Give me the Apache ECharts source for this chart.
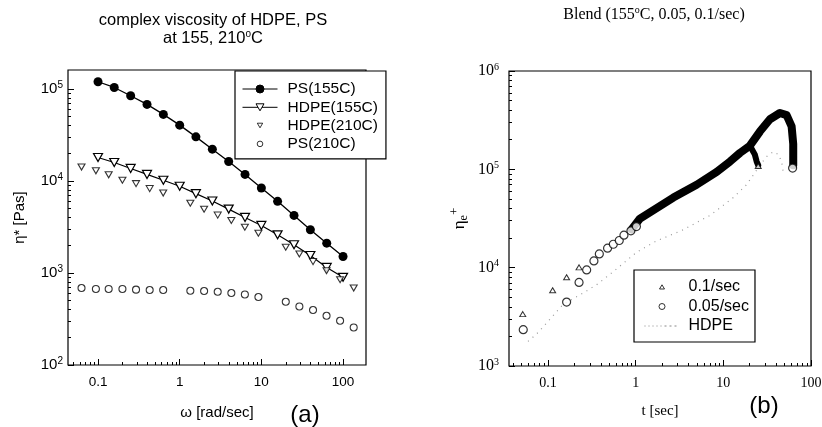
<!DOCTYPE html>
<html>
<head>
<meta charset="utf-8">
<script src="https://cdn.jsdelivr.net/npm/echarts@6/dist/echarts.min.js"></script>
<style>
  html, body { margin: 0; padding: 0; background: #fff; }
  #chart { width: 822px; height: 427px; }
</style>
</head>
<body>
<div id="chart"></div>
<script>
// ---- (a) complex viscosity, x = omega [rad/sec]
const omega155 = [0.1, 0.158, 0.251, 0.398, 0.631, 1, 1.58, 2.51, 3.98, 6.31, 10, 15.8, 25.1, 39.8, 63.1, 100];
const ps155 = [120000, 104000, 84500, 68100, 53000, 40500, 30200, 22200, 16300, 11800, 8400, 6010, 4230, 2950, 2110, 1510];
const hdpe155 = [18000, 15900, 13700, 11800, 10200, 8760, 7290, 6060, 4950, 4020, 3290, 2600, 2030, 1550, 1150, 897];

const omega210 = [0.0628, 0.0942, 0.135, 0.199, 0.292, 0.429, 0.628, 1.35, 1.99, 2.92, 4.29, 6.28, 9.2, 19.9, 29.2, 42.9, 62.8, 92, 135];
const hdpe210 = [14200, 12900, 11700, 10200, 9370, 8270, 7410, 5740, 4940, 4260, 3730, 3150, 2710, 1910, 1610, 1330, 1060, 847, 687];
const ps210 = [687, 671, 671, 671, 659, 654, 654, 642, 637, 626, 606, 585, 548, 487, 433, 396, 343, 303, 256];

// ---- (b) blend elongational viscosity, x = t [sec]
const rate01T = [0.0515, 0.113, 0.163, 0.226, 25.0];
const rate01V = [3370, 5890, 8000, 10070, 108000];
const rate005T = [0.0522, 0.163, 0.226, 0.276, 0.334, 0.385, 0.478, 0.556, 0.65, 0.735, 0.883, 1.02, 61.7];
const rate005V = [2340, 4470, 7080, 9490, 11700, 13800, 15800, 17300, 18900, 21400, 23700, 26200, 103000];
// dense part of the measurements (markers overlap into a solid band)
const band01T = [0.9, 1.12, 2.69, 4.96, 8.4, 11.9, 15.5, 20.1, 22.9, 24.0, 25.0];
const band01V = [24500, 31600, 51600, 69700, 94100, 120000, 147000, 174000, 141000, 120000, 110000];
const band005T = [0.9, 1.12, 2.69, 4.96, 8.4, 11.9, 15.5, 20.1, 26.1, 34.0, 44.2, 52.7, 60.1, 62.7, 62.7];
const band005V = [24500, 31600, 51600, 69700, 94100, 120000, 147000, 174000, 242000, 323000, 374000, 356000, 274000, 181000, 110000];
const hdpeT = [0.0592, 0.0743, 0.0883, 0.149, 0.253, 0.359, 0.556, 1.03, 1.73, 3.49, 7.03, 9.14, 13.0, 18.4, 21.9, 26.1, 31.2, 37.1, 42.3, 46.2, 48.2];
const hdpeV = [1780, 2120, 2510, 4240, 5530, 6710, 9120, 14400, 18700, 24300, 34000, 40500, 51600, 69700, 87300, 110000, 135000, 151000, 142000, 120000, 94100];

// tick labels
const aXMajor = [0.1, 1, 10, 100];
const aYMajor = [100, 1000, 10000, 100000];
const bXMajor = [0.1, 1, 10, 100];
const bYMajor = [1000, 10000, 100000, 1000000];

const sans = "'Liberation Sans', Arial, sans-serif";
const serif = "'Liberation Serif', 'Times New Roman', serif";

// 2..9 x 10^k between lo and hi
function minorTicks(lo, hi) {
  const out = [];
  for (let k = Math.floor(Math.log10(lo)); k <= Math.ceil(Math.log10(hi)); k++) {
    for (let m = 2; m <= 9; m++) {
      const v = Number((m * Math.pow(10, k)).toPrecision(6));
      if (v >= lo && v <= hi) out.push(v);
    }
  }
  return out;
}

function zip(xs, ys) {
  return xs.map((x, i) => [x, ys[i]]);
}

const aXMin = 0.0429, aXMax = 191, aYMin = 100, aYMax = 161000;
const bXMin = 0.0359, bXMax = 100, bYMin = 1000, bYMax = 1000000;

const pow10 = (v) => '10{sup|' + Math.round(Math.log10(v)) + '}';

// log axes carry the data and the labels
function mainX(grid, min, max, ticks, font, size, name, gap) {
  return {
    type: 'log', gridIndex: grid, min: min, max: max, position: 'bottom',
    axisLine: { show: false, onZero: false }, splitLine: { show: false }, axisTick: { show: false },
    axisLabel: {
      customValues: ticks, color: '#000', fontFamily: font, fontSize: size, margin: 10,
      formatter: (v) => String(Number(v.toPrecision(6)))
    },
    name: name, nameLocation: 'middle', nameGap: gap,
    nameTextStyle: { color: '#000', fontFamily: font, fontSize: 15 }
  };
}
function mainY(grid, min, max, ticks, font, size, margin) {
  return {
    type: 'log', gridIndex: grid, min: min, max: max, position: 'left',
    axisLine: { show: false, onZero: false }, splitLine: { show: false }, axisTick: { show: false },
    axisLabel: {
      customValues: ticks, color: '#000', fontFamily: font, fontSize: size, margin: margin,
      formatter: pow10,
      rich: { sup: { fontFamily: font, fontSize: 10, padding: [0, 0, 8, 0] } }
    }
  };
}
// tick marks only: a plain axis over log10 of the same range
function tickAxis(grid, min, max, values, len, pos) {
  return {
    type: 'value', gridIndex: grid, min: Math.log10(min), max: Math.log10(max), position: pos,
    axisLine: { show: false, onZero: false }, splitLine: { show: false }, axisLabel: { show: false },
    axisTick: {
      show: true, inside: true, length: len, lineStyle: { color: '#000', width: 1 },
      customValues: values.map((v) => Math.log10(v))
    }
  };
}

const yA = mainY(0, aYMin, aYMax, aYMajor, sans, 15, 5);
yA.name = '\u03b7* [Pas]';
yA.nameLocation = 'middle';
yA.nameGap = 41;
yA.nameTextStyle = { color: '#000', fontFamily: sans, fontSize: 15 };

const yB = mainY(1, bYMin, bYMax, bYMajor, serif, 16, 10);
yB.name = '\u03b7{sub|e}{sup|+}';
yB.nameLocation = 'middle';
yB.nameGap = 38;
yB.nameTextStyle = {
  color: '#000', fontFamily: serif, fontSize: 17,
  rich: {
    sub: { fontFamily: serif, fontSize: 12, padding: [8, 0, 0, 0] },
    sup: { fontFamily: serif, fontSize: 13, padding: [0, 0, 10, 0] }
  }
};

const blackFill = { color: '#000', borderColor: '#000', borderWidth: 1 };
const whiteFill = { color: '#fff', borderColor: '#000', borderWidth: 1 };

const option = {
  animation: false,
  backgroundColor: '#fff',
  title: [
    {
      text: 'complex viscosity of HDPE, PS\nat 155, 210{sup|o}C',
      left: 213, top: 11, padding: 0, textAlign: 'center',
      textStyle: {
        color: '#000', fontFamily: sans, fontSize: 16.5, fontWeight: 'normal', lineHeight: 18,
        rich: { sup: { fontFamily: sans, fontSize: 10, lineHeight: 18, padding: [0, 0, 8, 0] } }
      }
    },
    {
      text: 'Blend (155{sup|o}C, 0.05, 0.1/sec)',
      left: 654, top: 6, padding: 0, textAlign: 'center',
      textStyle: {
        color: '#000', fontFamily: serif, fontSize: 16, fontWeight: 'normal', lineHeight: 18,
        rich: { sup: { fontFamily: serif, fontSize: 10, lineHeight: 18, padding: [0, 0, 9, 0] } }
      }
    },
    {
      text: '(a)', left: 305, top: 402, padding: 0, textAlign: 'center',
      textStyle: { color: '#000', fontFamily: sans, fontSize: 24, fontWeight: 'normal', lineHeight: 26 }
    },
    {
      text: '(b)', left: 764, top: 393, padding: 0, textAlign: 'center',
      textStyle: { color: '#000', fontFamily: sans, fontSize: 24, fontWeight: 'normal', lineHeight: 26 }
    }
  ],
  grid: [
    { left: 68, top: 70, width: 298, height: 295, show: true, borderColor: '#000', borderWidth: 1.2, outerBoundsMode: 'none', containLabel: false },
    { left: 509, top: 71, width: 302, height: 295, show: true, borderColor: '#000', borderWidth: 1.2, outerBoundsMode: 'none', containLabel: false }
  ],
  xAxis: [
    mainX(0, aXMin, aXMax, aXMajor, sans, 13.5, '\u03c9 [rad/sec]', 40),
    tickAxis(0, aXMin, aXMax, aXMajor, 6, 'bottom'),
    tickAxis(0, aXMin, aXMax, minorTicks(aXMin, aXMax), 3, 'bottom'),
    mainX(1, bXMin, bXMax, bXMajor, serif, 14, 't [sec]', 38),
    tickAxis(1, bXMin, bXMax, bXMajor, 6, 'bottom'),
    tickAxis(1, bXMin, bXMax, minorTicks(bXMin, bXMax), 3, 'bottom')
  ],
  yAxis: [
    yA,
    tickAxis(0, aYMin, aYMax, aYMajor, 6, 'left'),
    tickAxis(0, aYMin, aYMax, minorTicks(aYMin, aYMax), 3, 'left'),
    yB,
    tickAxis(1, bYMin, bYMax, bYMajor, 6, 'left'),
    tickAxis(1, bYMin, bYMax, minorTicks(bYMin, bYMax), 3, 'left')
  ],
  legend: [
    {
      orient: 'vertical', left: 235, top: 71, z: 10,
      padding: [10, 8, 7, 7], itemGap: 2.3, itemWidth: 35, itemHeight: 10,
      backgroundColor: '#fff', borderColor: '#000', borderWidth: 1.2,
      textStyle: { color: '#000', fontFamily: sans, fontSize: 15.5, lineHeight: 16, padding: [0, 0, 0, 5] },
      data: [
        { name: 'PS(155C)', icon: 'path://M0,0M35,10M0,5L13.5,5M21.5,5L35,5M21.5,5A4,4,0,1,1,13.5,5A4,4,0,1,1,21.5,5Z', itemStyle: blackFill },
        { name: 'HDPE(155C)', icon: 'path://M0,0M35,10M0,5L15.5,5M19.5,5L35,5M13.5,1.5L21.5,1.5L17.5,8.5Z', itemStyle: whiteFill },
        { name: 'HDPE(210C)', icon: 'path://M0,0M35,10M14.8,2.6L20.2,2.6L17.5,7.2Z', itemStyle: whiteFill },
        { name: 'PS(210C)', icon: 'path://M0,0M35,10M20.3,5A2.8,2.8,0,1,1,14.7,5A2.8,2.8,0,1,1,20.3,5Z', itemStyle: whiteFill }
      ]
    },
    {
      orient: 'vertical', left: 634, top: 270, z: 10,
      padding: [9, 6, 8, 10], itemGap: 3.5, itemWidth: 35, itemHeight: 10,
      backgroundColor: '#fff', borderColor: '#000', borderWidth: 1.2,
      textStyle: { color: '#000', fontFamily: sans, fontSize: 16, lineHeight: 16, padding: [0, 0, 0, 4] },
      data: [
        { name: '0.1/sec', icon: 'path://M0,0M35,10M15,7L20,7L17.5,2.8Z', itemStyle: whiteFill },
        { name: '0.05/sec', icon: 'path://M0,0M35,10M20.5,5A3,3,0,1,1,14.5,5A3,3,0,1,1,20.5,5Z', itemStyle: whiteFill },
        { name: 'HDPE', icon: 'path://M0,0M35,10M0,5L1,5M4,5L5,5M8,5L9,5M12,5L13,5M16,5L17,5M20,5L22,5M25,5L27,5M30,5L32,5', itemStyle: { color: '#fff', borderColor: '#888', borderWidth: 1 } }
      ]
    }
  ],
  series: [
    {
      name: 'PS(155C)', type: 'line', xAxisIndex: 0, yAxisIndex: 0,
      data: zip(omega155, ps155), symbol: 'circle', symbolSize: 9,
      itemStyle: { color: '#000' }, lineStyle: { color: '#000', width: 1.3 }, z: 3
    },
    {
      name: 'HDPE(155C)', type: 'line', xAxisIndex: 0, yAxisIndex: 0,
      data: zip(omega155, hdpe155), symbol: 'triangle', symbolRotate: 180, symbolSize: [9, 8],
      itemStyle: { color: '#fff', borderColor: '#000', borderWidth: 1.2 },
      lineStyle: { color: '#000', width: 1.2 }, z: 3
    },
    {
      name: 'HDPE(210C)', type: 'scatter', xAxisIndex: 0, yAxisIndex: 0,
      data: zip(omega210, hdpe210), symbol: 'triangle', symbolRotate: 180, symbolSize: [7, 6],
      itemStyle: { color: '#fff', borderColor: '#000', borderWidth: 1.1 }, z: 4
    },
    {
      name: 'PS(210C)', type: 'scatter', xAxisIndex: 0, yAxisIndex: 0,
      data: zip(omega210, ps210), symbol: 'circle', symbolSize: 7,
      itemStyle: { color: '#fff', borderColor: '#000', borderWidth: 1.1 }, z: 4
    },
    {
      name: 'HDPE', type: 'line', xAxisIndex: 3, yAxisIndex: 3,
      data: zip(hdpeT, hdpeV), symbol: 'none', smooth: false,
      lineStyle: { color: '#999', width: 1.2, type: [1, 5] }, z: 2
    },
    {
      name: 'band 0.1', type: 'line', xAxisIndex: 3, yAxisIndex: 3,
      data: zip(band01T, band01V), symbol: 'none',
      lineStyle: { color: '#000', width: 6, cap: 'round', join: 'round' }, z: 3
    },
    {
      name: 'band 0.05', type: 'line', xAxisIndex: 3, yAxisIndex: 3,
      data: zip(band005T, band005V), symbol: 'none',
      lineStyle: { color: '#000', width: 8, cap: 'round', join: 'round' }, z: 3
    },
    {
      name: '0.1/sec', type: 'scatter', xAxisIndex: 3, yAxisIndex: 3,
      data: zip(rate01T, rate01V), symbol: 'triangle', symbolSize: [6, 5],
      itemStyle: { color: '#fff', borderColor: '#000', borderWidth: 1 }, z: 4
    },
    {
      name: '0.05/sec', type: 'scatter', xAxisIndex: 3, yAxisIndex: 3,
      data: zip(rate005T, rate005V), symbol: 'circle', symbolSize: 8,
      itemStyle: { color: '#fff', borderColor: '#000', borderWidth: 1.2 }, z: 4
    }
  ]
};

const chart = echarts.init(document.getElementById('chart'), null, { renderer: 'canvas' });
chart.setOption(option);
</script>
</body>
</html>
